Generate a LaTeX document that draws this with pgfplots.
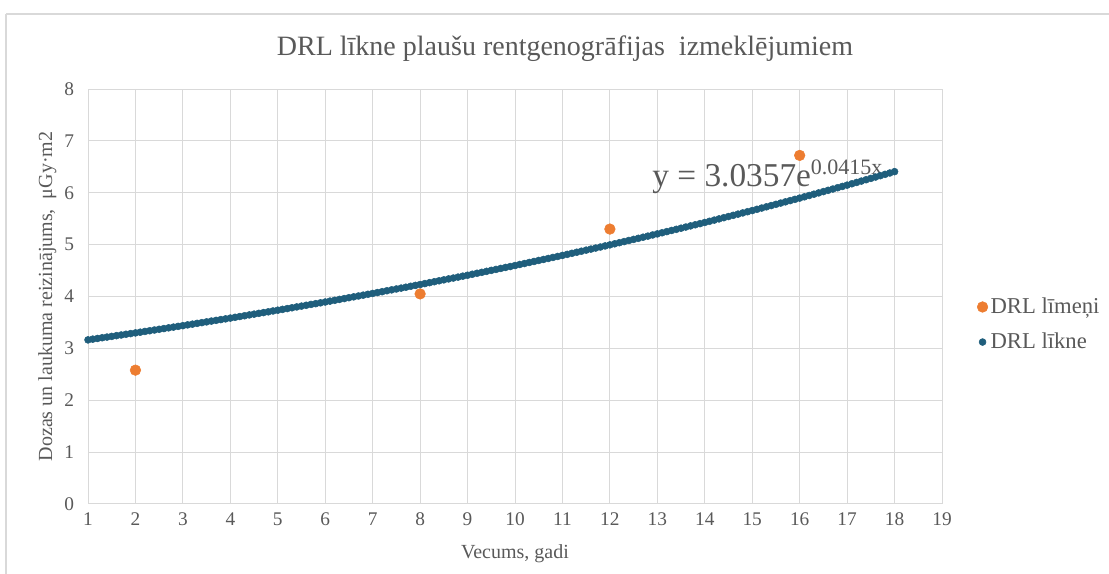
\documentclass[border=0pt]{standalone}
\usepackage{pgfplots}
\pgfplotsset{compat=1.18}
\usepackage{pgfplotstable}
\usepackage{fontspec}
\setmainfont{Liberation Serif}
\definecolor{drlorange}{RGB}{237,125,49}
\definecolor{drlteal}{RGB}{31,94,124}
\definecolor{gridgray}{RGB}{217,217,217}
\definecolor{txtgray}{RGB}{89,89,89}

\pgfplotstableread{
x y
2 2.58
8 4.05
12 5.30
16 6.72
}\levels

\pgfplotstableread{
x y
1.0 3.164
1.1 3.178
1.2 3.191
1.3 3.205
1.4 3.218
1.5 3.231
1.6 3.245
1.7 3.258
1.8 3.272
1.9 3.285
2.0 3.298
2.1 3.312
2.2 3.326
2.3 3.340
2.4 3.354
2.5 3.368
2.6 3.382
2.7 3.396
2.8 3.410
2.9 3.424
3.0 3.438
3.1 3.453
3.2 3.467
3.3 3.482
3.4 3.496
3.5 3.511
3.6 3.526
3.7 3.540
3.8 3.555
3.9 3.569
4.0 3.584
4.1 3.599
4.2 3.614
4.3 3.629
4.4 3.645
4.5 3.660
4.6 3.675
4.7 3.690
4.8 3.705
4.9 3.721
5.0 3.736
5.1 3.752
5.2 3.767
5.3 3.783
5.4 3.799
5.5 3.815
5.6 3.831
5.7 3.847
5.8 3.862
5.9 3.878
6.0 3.894
6.1 3.911
6.2 3.927
6.3 3.944
6.4 3.960
6.5 3.977
6.6 3.993
6.7 4.010
6.8 4.026
6.9 4.043
7.0 4.059
7.1 4.076
7.2 4.093
7.3 4.111
7.4 4.128
7.5 4.145
7.6 4.162
7.7 4.179
7.8 4.197
7.9 4.214
8.0 4.231
8.1 4.249
8.2 4.267
8.3 4.285
8.4 4.303
8.5 4.321
8.6 4.339
8.7 4.356
8.8 4.374
8.9 4.392
9.0 4.410
9.1 4.429
9.2 4.448
9.3 4.466
9.4 4.485
9.5 4.504
9.6 4.522
9.7 4.541
9.8 4.560
9.9 4.578
10.0 4.597
10.1 4.617
10.2 4.636
10.3 4.656
10.4 4.675
10.5 4.695
10.6 4.714
10.7 4.733
10.8 4.753
10.9 4.772
11.0 4.792
11.1 4.812
11.2 4.833
11.3 4.853
11.4 4.873
11.5 4.894
11.6 4.914
11.7 4.934
11.8 4.954
11.9 4.975
12.0 4.995
12.1 5.016
12.2 5.037
12.3 5.059
12.4 5.080
12.5 5.101
12.6 5.122
12.7 5.143
12.8 5.164
12.9 5.186
13.0 5.207
13.1 5.229
13.2 5.251
13.3 5.273
13.4 5.295
13.5 5.317
13.6 5.339
13.7 5.361
13.8 5.383
13.9 5.405
14.0 5.427
14.1 5.450
14.2 5.473
14.3 5.496
14.4 5.519
14.5 5.542
14.6 5.565
14.7 5.588
14.8 5.611
14.9 5.634
15.0 5.657
15.1 5.681
15.2 5.705
15.3 5.729
15.4 5.753
15.5 5.777
15.6 5.801
15.7 5.825
15.8 5.849
15.9 5.873
16.0 5.897
16.1 5.922
16.2 5.947
16.3 5.972
16.4 5.997
16.5 6.022
16.6 6.047
16.7 6.072
16.8 6.097
16.9 6.122
17.0 6.147
17.1 6.173
17.2 6.199
17.3 6.225
17.4 6.251
17.5 6.277
17.6 6.303
17.7 6.329
17.8 6.355
17.9 6.381
18.0 6.407
}\curve

\begin{document}
\begin{tikzpicture}[x=0.75pt,y=0.75pt]
\useasboundingbox (0,0) rectangle (1109,574);
\draw[gridgray, line width=1.2pt] (6,574-14) -- (1109,574-14);
\draw[gridgray, line width=1.2pt] (6,574-14) -- (6,0);
\node[txtgray, font=\fontsize{21}{24}\selectfont] at (565,574-49) {DRL līkne plaušu rentgenogrāfijas\ \ izmeklējumiem};
\begin{axis}[
  at={(66pt,52.5pt)}, anchor=south west,
  scale only axis, width=640.5pt, height=311.25pt,
  xmin=1, xmax=19, ymin=0, ymax=8,
  xtick={1,...,19}, ytick={0,...,8},
  grid=major, grid style={gridgray, line width=0.75pt},
  axis line style={gridgray, line width=0.75pt},
  major tick length=0pt,
  tick label style={txtgray, font=\fontsize{14.5}{16}\selectfont},
  /pgf/number format/assume math mode=true,
  xticklabel style={yshift=-3pt},
  yticklabel style={xshift=-7pt},
  xlabel={Vecums, gadi},
  ylabel={Dozas un laukuma reizinājums,\ \ μGy·m2},
  label style={txtgray, font=\fontsize{15}{17}\selectfont},
  xlabel style={yshift=-7pt},
  ylabel style={yshift=-1pt},
  clip=false,
  legend style={at={(1.03,0.4325)}, xshift=7pt, anchor=west, draw=none, fill=none,
    font=\fontsize{17}{19}\selectfont, text=txtgray, row sep=9pt,
    inner sep=0pt, legend cell align=left,
    nodes={inner xsep=2pt}},
  legend image code/.code={\draw[#1] plot coordinates {(0.5mm,0)};},
]
\addplot[only marks, mark=*, mark size=4pt, drlorange, mark options={draw=drlorange, fill=drlorange}] table[x=x,y=y]{\levels};
\addlegendentry{DRL līmeņi}
\addplot[only marks, mark=*, mark size=2.6pt, drlteal, mark options={draw=drlteal, fill=drlteal}] table[x=x,y=y]{\curve};
\addlegendentry{DRL līkne}
\node[txtgray, anchor=base west, inner sep=0pt, font=\fontsize{25}{28}\selectfont] at (axis cs:12.89,6.12) {y = 3.0357e\raisebox{9pt}{\fontsize{16.5}{18}\selectfont 0.0415x}};
\end{axis}
\end{tikzpicture}
\end{document}
